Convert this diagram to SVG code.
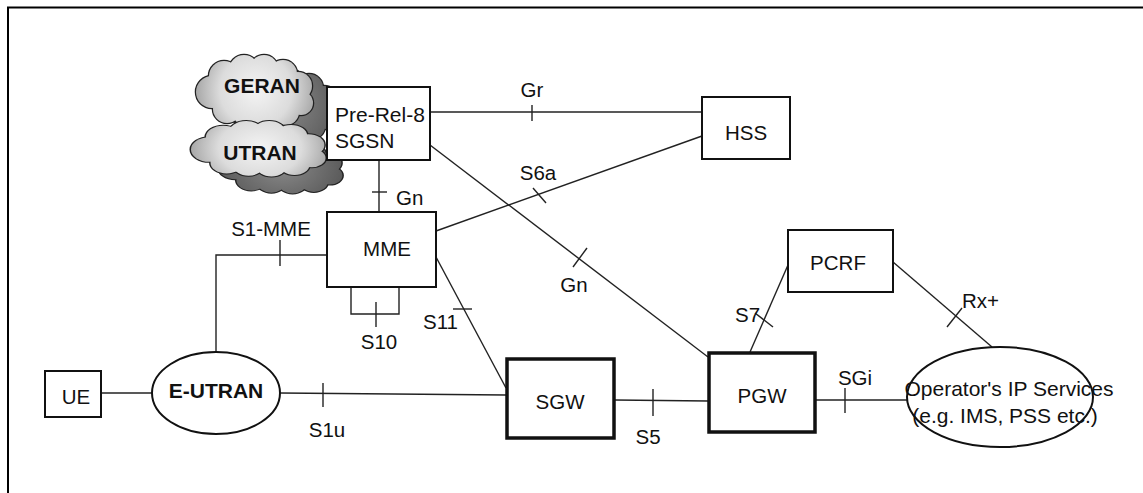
<svg xmlns="http://www.w3.org/2000/svg" xmlns:xlink="http://www.w3.org/1999/xlink" width="1143" height="493" viewBox="0 0 1143 493">
<style>
  text { font-family: "Liberation Sans", Arial, sans-serif; font-size: 20.5px; fill: #111; }
  .b { font-weight: bold; font-size: 21px; }
  .m { text-anchor: middle; }
  .box { fill: #fff; stroke: #111; stroke-width: 2; }
  .thick { fill: #fff; stroke: #111; stroke-width: 3.5; }
  .ln { stroke: #222; stroke-width: 1.4; fill: none; }
  .tk { stroke: #222; stroke-width: 1.4; }
</style>
<defs>
  <g id="cs">
    <circle cx="-44" cy="2" r="16"/>
    <circle cx="-32" cy="-14" r="15"/>
    <circle cx="-12" cy="-20" r="15"/>
    <circle cx="8" cy="-21" r="14"/>
    <circle cx="27" cy="-16" r="14"/>
    <circle cx="42" cy="-4" r="14"/>
    <circle cx="45" cy="13" r="12"/>
    <circle cx="30" cy="22" r="13"/>
    <circle cx="10" cy="24" r="13"/>
    <circle cx="-10" cy="23" r="13"/>
    <circle cx="-29" cy="19" r="14"/>
    <ellipse cx="0" cy="1" rx="46" ry="24"/>
  </g>
  <radialGradient id="light" gradientUnits="userSpaceOnUse" cx="0" cy="0" r="60">
    <stop offset="0" stop-color="#f4f4f4"/>
    <stop offset="0.6" stop-color="#dcdcdc"/>
    <stop offset="1" stop-color="#a8a8a8"/>
  </radialGradient>
  <radialGradient id="dark" gradientUnits="userSpaceOnUse" cx="0" cy="0" r="60">
    <stop offset="0" stop-color="#8a8a8a"/>
    <stop offset="1" stop-color="#5a5a5a"/>
  </radialGradient>
</defs>

<rect width="1143" height="493" fill="#fff"/>
<path d="M8 493 V7.5 H1143" fill="none" stroke="#000" stroke-width="2"/>

<g id="clouds">
  <g transform="translate(282,104)">
    <use xlink:href="#cs" fill="#222" stroke="#222" stroke-width="2.5"/>
    <use xlink:href="#cs" fill="url(#dark)"/>
  </g>
  <g transform="translate(256,90)">
    <use xlink:href="#cs" fill="#222" stroke="#222" stroke-width="2.5"/>
    <use xlink:href="#cs" fill="url(#light)"/>
  </g>
  <g transform="translate(282,166) scale(1.06,0.74)">
    <use xlink:href="#cs" fill="#222" stroke="#222" stroke-width="2.8"/>
    <use xlink:href="#cs" fill="url(#dark)"/>
  </g>
  <g transform="translate(260,148) scale(1.15,0.77)">
    <use xlink:href="#cs" fill="#222" stroke="#222" stroke-width="2.6"/>
    <use xlink:href="#cs" fill="url(#light)"/>
  </g>
</g>

<g id="connectors">
  <!-- Gr -->
  <line class="ln" x1="430" y1="112" x2="702" y2="112"/>
  <line class="tk" x1="532" y1="105" x2="532" y2="121"/>
  <!-- S6a -->
  <line class="ln" x1="436" y1="231" x2="702" y2="136"/>
  <line class="tk" x1="533" y1="188" x2="546" y2="203"/>
  <!-- Gn SGSN-PGW -->
  <line class="ln" x1="430" y1="145" x2="708" y2="357"/>
  <line class="tk" x1="573" y1="267" x2="587" y2="248"/>
  <!-- Gn SGSN-MME -->
  <line class="ln" x1="379" y1="160" x2="379" y2="212"/>
  <line class="tk" x1="372" y1="192" x2="387" y2="192"/>
  <!-- S1-MME -->
  <polyline class="ln" points="327,255 216,255 216,353"/>
  <line class="tk" x1="280" y1="240" x2="280" y2="266"/>
  <!-- S10 -->
  <polyline class="ln" points="351,288 351,314 399,314 399,288"/>
  <line class="tk" x1="376" y1="302" x2="376" y2="327"/>
  <!-- S11 -->
  <line class="ln" x1="436" y1="257" x2="506" y2="388"/>
  <line class="tk" x1="453" y1="309" x2="472" y2="309"/>
  <!-- UE - E-UTRAN -->
  <line class="ln" x1="101" y1="393" x2="152" y2="393"/>
  <!-- S1u -->
  <line class="ln" x1="280" y1="393" x2="506" y2="395"/>
  <line class="tk" x1="323" y1="383" x2="323" y2="407"/>
  <!-- S5 -->
  <line class="ln" x1="615" y1="400" x2="708" y2="401"/>
  <line class="tk" x1="653" y1="389" x2="653" y2="416"/>
  <!-- S7 -->
  <line class="ln" x1="750" y1="352" x2="788" y2="265"/>
  <line class="tk" x1="755" y1="313" x2="773" y2="327"/>
  <!-- Rx+ -->
  <line class="ln" x1="893" y1="262" x2="992" y2="347"/>
  <line class="tk" x1="947" y1="327" x2="962" y2="308"/>
  <!-- SGi -->
  <line class="ln" x1="816" y1="400" x2="907" y2="400"/>
  <line class="tk" x1="845" y1="388" x2="845" y2="413"/>
</g>

<g id="labels">
  <text class="m" x="532" y="97">Gr</text>
  <text class="m" x="538" y="180">S6a</text>
  <text x="396" y="205">Gn</text>
  <text class="m" x="574" y="292">Gn</text>
  <text class="m" x="271" y="236">S1-MME</text>
  <text class="m" x="379" y="349">S10</text>
  <text x="423" y="329">S11</text>
  <text class="m" x="327" y="437">S1u</text>
  <text class="m" x="648" y="444">S5</text>
  <text x="735" y="322">S7</text>
  <text x="962" y="308">Rx+</text>
  <text class="m" x="855" y="385">SGi</text>
</g>

<g id="geran"><text class="b m" x="262" y="93">GERAN</text></g>
<g id="utran"><text class="b m" x="260" y="160">UTRAN</text></g>

<g id="sgsn">
  <rect class="box" x="327" y="87" width="103" height="73"/>
  <text x="335" y="122" style="font-size:21px">Pre-Rel-8</text>
  <text x="335" y="148" style="font-size:21px">SGSN</text>
</g>
<g id="hss">
  <rect class="box" x="702" y="97" width="88" height="62"/>
  <text class="m" x="746" y="140">HSS</text>
</g>
<g id="mme">
  <rect class="box" x="327" y="212" width="109" height="75"/>
  <text class="m" x="387" y="256">MME</text>
</g>
<g id="ue">
  <rect class="box" x="45" y="371" width="56" height="46"/>
  <text class="m" x="76" y="404">UE</text>
</g>
<g id="eutran">
  <ellipse class="box" cx="216" cy="393" rx="64" ry="41"/>
  <text class="b m" x="216" y="398">E-UTRAN</text>
</g>
<g id="sgw">
  <rect class="thick" x="507" y="359" width="107" height="79"/>
  <text class="m" x="560" y="409">SGW</text>
</g>
<g id="pgw">
  <rect class="thick" x="709" y="353" width="106" height="79"/>
  <text class="m" x="762" y="403">PGW</text>
</g>
<g id="pcrf">
  <rect class="box" x="788" y="230" width="105" height="62"/>
  <text class="m" x="838" y="270">PCRF</text>
</g>
<g id="ops">
  <ellipse class="box" cx="1000" cy="397" rx="93" ry="50"/>
  <text class="m" x="1009" y="396" style="font-size:21px">Operator's IP Services</text>
  <text class="m" x="1005" y="423" style="font-size:21px">(e.g. IMS, PSS etc.)</text>
</g>
</svg>
